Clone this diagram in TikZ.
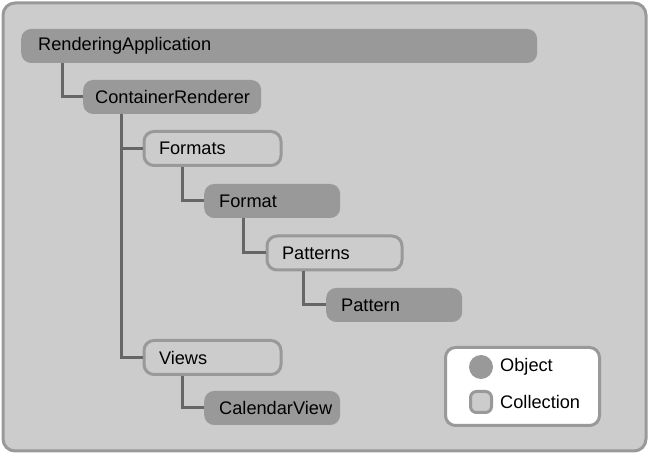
\documentclass[tikz,border=0pt]{standalone}
\usepackage{fontspec}
\setmainfont{Liberation Sans}
\usetikzlibrary{positioning}
\definecolor{panelgray}{HTML}{CCCCCC}
\definecolor{boxgray}{HTML}{999999}
\definecolor{linkgray}{HTML}{666666}
\tikzset{
	obj/.style={rectangle, rounded corners=10pt, fill=boxgray, anchor=west, inner xsep=15pt, inner ysep=0pt,
		minimum height=34pt, align=left, font=\fontsize{18.2}{20}\selectfont, text width=#1},
	coll/.style={obj=#1, fill=panelgray, draw=boxgray, line width=3pt},
	link/.style={draw=linkgray, line width=3pt},
	keytext/.style={anchor=west, inner sep=0pt, font=\fontsize{18.2}{20}\selectfont},
}

\begin{document}
\begin{tikzpicture}[x=1pt,y=-1pt]
		%%%%% START %%%%%
		\useasboundingbox (0,0) rectangle (649,454);
		\draw[fill=panelgray, draw=boxgray, line width=3pt, rounded corners=12pt] (3,3) rectangle (646,451);
		
		\node[obj=482pt, inner xsep=17pt] (app) at (21,46) {RenderingApplication};
		\node[obj=154pt, inner xsep=12pt] (container) at (83,97) {ContainerRenderer};
		\node[coll=107pt] (formats) at (142.5,148.5) {Formats};
		\node[obj=106pt] (format) at (204,201) {Format};
		\node[coll=105pt] (patterns) at (265.5,253) {Patterns};
		\node[obj=106pt] (pattern) at (326,305) {Pattern};
		\node[coll=107pt] (views) at (142.5,357.5) {Views};
		\node[obj=106pt] (calview) at (204,408) {CalendarView};
		
		\draw[link] ([xshift=41pt]app.south west) |- (container.west);
		\draw[link] ([xshift=38pt]container.south west) |- (formats.west);
		\draw[link] ([xshift=38pt]container.south west) |- (views.west);
		\draw[link] ([xshift=39.5pt]formats.south west) |- (format.west);
		\draw[link] ([xshift=39pt]format.south west) |- (patterns.west);
		\draw[link] ([xshift=37.5pt]patterns.south west) |- (pattern.west);
		\draw[link] ([xshift=39.5pt]views.south west) |- (calview.west);
		
		% legend
		\draw[fill=white, draw=boxgray, line width=3pt, rounded corners=10pt] (445.5,347.5) rectangle (599.5,425.5);
		\node[circle, fill=boxgray, minimum size=24pt, inner sep=0pt] (objkey) at (481,367) {};
		\node[rectangle, rounded corners=6pt, fill=panelgray, draw=boxgray, line width=3pt, minimum size=21pt, inner sep=0pt] (collkey) at (481,402) {};
		\node[keytext] (objlabel) at (500,367) {Object};
		\node[keytext] (colllabel) at (500,402) {Collection};
		%%%%% END %%%%%
	\end{tikzpicture}
\end{document}
